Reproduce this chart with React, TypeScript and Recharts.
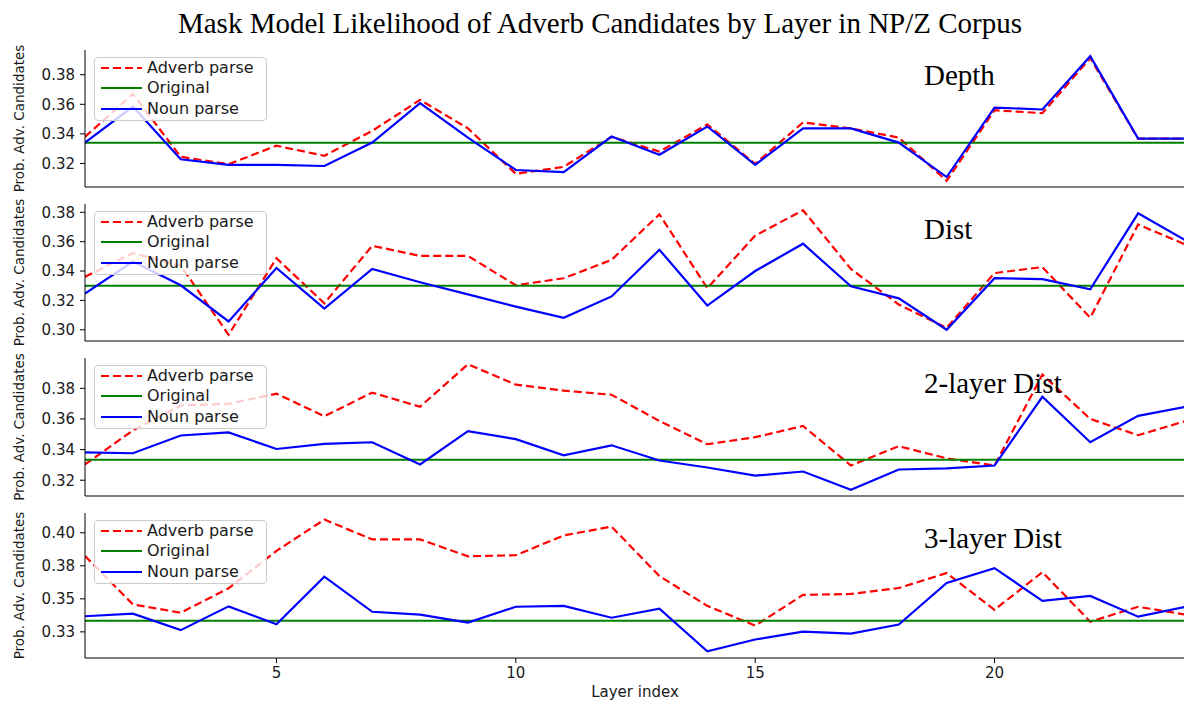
import { LineChart, Line, XAxis, YAxis, ReferenceLine, Legend } from "recharts";

const layers = [1, 2, 3, 4, 5, 6, 7, 8, 9, 10, 11, 12, 13, 14, 15, 16, 17, 18, 19, 20, 21, 22, 23, 24];
const xTicks = [5, 10, 15, 20];

const depthAdverb = [0.338, 0.367, 0.3245, 0.3195, 0.332, 0.3252, 0.342, 0.363, 0.3437, 0.313, 0.3177, 0.338, 0.328, 0.3464, 0.3197, 0.3478, 0.3437, 0.3375, 0.3083, 0.356, 0.354, 0.3912, 0.3368, 0.3368];
const depthNoun = [0.3341, 0.3585, 0.3228, 0.319, 0.319, 0.3183, 0.3341, 0.3608, 0.3375, 0.3156, 0.3142, 0.3382, 0.3259, 0.345, 0.319, 0.3437, 0.3437, 0.3341, 0.3108, 0.3578, 0.3565, 0.3925, 0.3368, 0.3368];

const distAdverb = [0.3361, 0.3522, 0.3437, 0.2966, 0.3487, 0.318, 0.3572, 0.3503, 0.3503, 0.3303, 0.3351, 0.3476, 0.3786, 0.3283, 0.3641, 0.3814, 0.3414, 0.3172, 0.3013, 0.3386, 0.3427, 0.3082, 0.3717, 0.3579];
const distNoun = [0.3246, 0.3464, 0.3303, 0.3057, 0.3421, 0.3145, 0.3414, 0.3324, 0.3241, 0.3158, 0.3082, 0.3227, 0.3545, 0.3165, 0.34, 0.3586, 0.3296, 0.3214, 0.3, 0.3351, 0.3345, 0.3276, 0.3793, 0.3607];

const twoLayerAdverb = [0.3303, 0.3525, 0.3688, 0.3699, 0.3765, 0.3618, 0.3772, 0.368, 0.3957, 0.3824, 0.3785, 0.3758, 0.3587, 0.3435, 0.3481, 0.3554, 0.3296, 0.3422, 0.3343, 0.3296, 0.389, 0.36, 0.3494, 0.3587];
const twoLayerNoun = [0.3382, 0.3376, 0.3492, 0.3512, 0.3404, 0.3437, 0.3448, 0.3303, 0.3521, 0.3468, 0.3362, 0.3428, 0.3329, 0.3283, 0.323, 0.3257, 0.3138, 0.327, 0.3277, 0.3296, 0.3745, 0.3448, 0.362, 0.368];

const threeLayerAdverb = [0.3825, 0.3458, 0.3395, 0.358, 0.3863, 0.41, 0.395, 0.395, 0.3822, 0.383, 0.398, 0.4047, 0.3672, 0.3447, 0.3297, 0.353, 0.3537, 0.3582, 0.3695, 0.3417, 0.3702, 0.3327, 0.344, 0.338];
const threeLayerNoun = [0.3368, 0.3388, 0.3263, 0.3443, 0.3308, 0.3668, 0.3402, 0.338, 0.332, 0.344, 0.3447, 0.3357, 0.3425, 0.3102, 0.3192, 0.3252, 0.3237, 0.3305, 0.362, 0.3732, 0.3485, 0.3522, 0.3365, 0.344];

const originals = [0.334, 0.33, 0.3333, 0.3335];
const panelNames = ["Depth", "Dist", "2-layer Dist", "3-layer Dist"];
const yTicks = [
  [0.32, 0.34, 0.36, 0.38],
  [0.3, 0.32, 0.34, 0.36, 0.38],
  [0.32, 0.34, 0.36, 0.38],
  [0.325, 0.35, 0.375, 0.4],
];
const seriesNames = ["Adverb parse", "Original", "Noun parse"];

const adverbSeries = [depthAdverb, distAdverb, twoLayerAdverb, threeLayerAdverb];
const nounSeries = [depthNoun, distNoun, twoLayerNoun, threeLayerNoun];

const panelTops = [50, 204, 358, 513];
const panelHeights = [137, 137, 138, 145];
const CHART_W = 1186;
const AXIS_W = 85;
const RED = "#ff0000";
const GREEN = "#008000";
const BLUE = "#0000ff";
const DASH = "8 4";
const tickStyle = { fill: "#1a1a1a", fontSize: 15, fontFamily: "DejaVu Sans" };

function LegendBox() {
  const samples = [
    { color: RED, dash: DASH },
    { color: GREEN, dash: undefined },
    { color: BLUE, dash: undefined },
  ];
  return (
    <div
      style={{
        width: 173,
        height: 64,
        boxSizing: "border-box",
        border: "1px solid #cccccc",
        borderRadius: 4,
        background: "rgba(255,255,255,0.8)",
        position: "relative",
      }}
    >
      {seriesNames.map((name, i) => (
        <div key={name} style={{ position: "absolute", left: 0, top: i * 20.4, height: 20, width: 171 }}>
          <svg width={44} height={20} style={{ position: "absolute", left: 5, top: 0 }}>
            <line x1={1} y1={10} x2={42} y2={10} stroke={samples[i].color} strokeWidth={2} strokeDasharray={samples[i].dash} />
          </svg>
          <span
            style={{
              position: "absolute",
              left: 52,
              top: 0,
              lineHeight: "20px",
              fontSize: 16,
              fontFamily: "DejaVu Sans",
              color: "#1a1a1a",
              whiteSpace: "nowrap",
            }}
          >
            {name}
          </span>
        </div>
      ))}
    </div>
  );
}

function Panel({ index }: { index: number }) {
  const adverb = adverbSeries[index];
  const noun = nounSeries[index];
  const orig = originals[index];
  const rows = layers.map((layer, i) => ({ layer, adverb: adverb[i], noun: noun[i] }));
  const lo = Math.min(...adverb, ...noun, orig);
  const hi = Math.max(...adverb, ...noun, orig);
  const pad = (hi - lo) * 0.05;
  const isLast = index === panelNames.length - 1;
  const xh = isLast ? 30 : 6;
  const h = panelHeights[index];

  return (
    <div style={{ position: "absolute", left: 0, top: panelTops[index] - 1 }}>
      <LineChart width={CHART_W} height={1 + h + xh} data={rows} margin={{ top: 1, right: 0, bottom: 0, left: 0 }}>
        <XAxis
          dataKey="layer"
          type="number"
          domain={[1, 24]}
          ticks={xTicks}
          allowDataOverflow
          height={xh}
          tickSize={5}
          tickMargin={4}
          tick={isLast ? tickStyle : false}
          axisLine={{ stroke: "#000" }}
          tickLine={{ stroke: "#000" }}
        />
        <XAxis xAxisId="top" orientation="top" type="number" domain={[1, 24]} height={0} tick={false} tickLine={false} axisLine={{ stroke: "#000" }} />
        <YAxis
          type="number"
          domain={[lo - pad, hi + pad]}
          ticks={yTicks[index]}
          allowDataOverflow
          width={AXIS_W}
          tickSize={5}
          tickMargin={5}
          tick={tickStyle}
          tickFormatter={(v: number) => v.toFixed(2)}
          axisLine={{ stroke: "#000" }}
          tickLine={{ stroke: "#000" }}
        />
        <Line dataKey="adverb" stroke={RED} strokeWidth={2.2} strokeDasharray={DASH} dot={false} isAnimationActive={false} />
        <ReferenceLine y={orig} stroke={GREEN} strokeWidth={2} />
        <Line dataKey="noun" stroke={BLUE} strokeWidth={2.2} dot={false} isAnimationActive={false} />
        <Legend
          layout="vertical"
          align="center"
          verticalAlign="middle"
          wrapperStyle={{ left: 94, top: 8, width: 173, height: 64 }}
          content={() => <LegendBox />}
        />
      </LineChart>
    </div>
  );
}

export default function App() {
  return (
    <div style={{ position: "absolute", left: 0, top: 0, width: 1184, height: 704, overflow: "hidden", background: "#fff" }}>
      {panelNames.map((_, i) => (
        <Panel key={i} index={i} />
      ))}
      <svg width={1184} height={704} style={{ position: "absolute", left: 0, top: 0, pointerEvents: "none" }}>
        <text x={600} y={33} textAnchor="middle" fontFamily="Liberation Serif" fontSize={29} fill="#000">
          Mask Model Likelihood of Adverb Candidates by Layer in NP/Z Corpus
        </text>
        {panelNames.map((name, i) => (
          <text key={name} x={924} y={panelTops[i] + 35} fontFamily="Liberation Serif" fontSize={29} fill="#000">
            {name}
          </text>
        ))}
        {panelNames.map((name, i) => (
          <text
            key={"yl" + name}
            transform={`translate(19 ${panelTops[i] + panelHeights[i] / 2}) rotate(-90)`}
            textAnchor="middle"
            dominantBaseline="central"
            fontFamily="DejaVu Sans"
            fontSize={13.5}
            fill="#1a1a1a"
          >
            Prob. Adv. Candidates
          </text>
        ))}
        <text x={635} y={697} textAnchor="middle" fontFamily="DejaVu Sans" fontSize={15} fill="#1a1a1a">
          Layer index
        </text>
      </svg>
    </div>
  );
}
